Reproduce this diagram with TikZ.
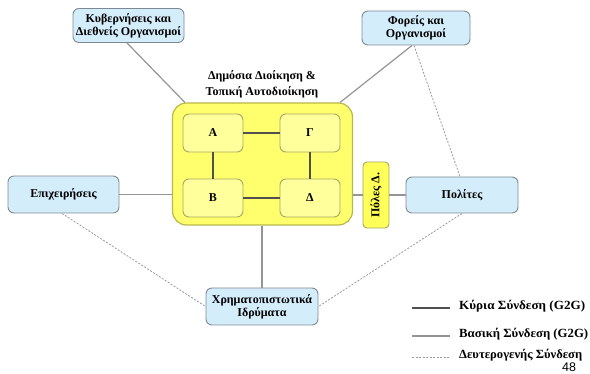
\documentclass[tikz,border=0pt]{standalone}
\usepackage{graphicx}
\usepackage{fontspec}
\setmainfont{Liberation Serif}
\newfontfamily\numfont{Liberation Sans}
\usetikzlibrary{calc}
\definecolor{boxblue}{HTML}{D4EDFB}
\definecolor{boxedge}{HTML}{7D8A94}
\definecolor{bigyellow}{HTML}{FFFF6E}
\definecolor{bigedge}{HTML}{B8B84A}
\definecolor{inneryellow}{HTML}{FFFF9C}
\definecolor{inneredge}{HTML}{A8A860}
\definecolor{polyellow}{HTML}{FFFF5A}
\definecolor{mainline}{HTML}{505050}
\definecolor{baseline}{HTML}{959595}
\definecolor{secline}{HTML}{9A9A9A}
\tikzset{
  actor/.style={draw=boxedge, line width=0.9pt, fill=boxblue, rounded corners=6pt,
    align=center, font=\bfseries\fontsize{12}{13}\selectfont, inner sep=0pt},
  sector/.style={draw=bigedge, line width=1.2pt, fill=bigyellow, rounded corners=14pt,
    minimum width=180pt, minimum height=122pt, inner sep=0pt},
  level/.style={draw=inneredge, line width=0.9pt, fill=inneryellow, rounded corners=6pt,
    minimum width=60pt, minimum height=38pt, inner sep=0pt,
    font=\bfseries\fontsize{12}{13}\selectfont},
  gate/.style={draw=inneredge, line width=0.9pt, fill=polyellow, rounded corners=4pt,
    minimum width=26pt, minimum height=66pt, inner sep=0pt},
  mainlink/.style={draw=mainline, line width=2.4pt},
  baselink/.style={draw=baseline, line width=1.2pt},
  seclink/.style={draw=secline, line width=0.8pt, dash pattern=on 2pt off 1.5pt},
  legendtext/.style={anchor=west, inner sep=0pt, font=\bfseries\fontsize{12.5}{13}\selectfont},
}
% legend labels are stretched to a fixed width, keeping their height
\newcommand{\legendlabel}[2]{\resizebox{#1}{\height}{#2}}
\begin{document}
\begin{tikzpicture}[x=1pt, y=-1pt]
\useasboundingbox (0,0) rectangle (590,374);

% outer actors
\node[actor, minimum width=111pt, minimum height=34pt] (kyv) at (128.5,25.5)
  {Κυβερνήσεις και\\Διεθνείς Οργανισμοί};
\node[actor, minimum width=108pt, minimum height=34pt] (forh) at (416,28)
  {Φορείς και\\Οργανισμοί};
\node[actor, minimum width=111pt, minimum height=37pt] (epix) at (63.5,194.5)
  {Επιχειρήσεις};
\node[actor, minimum width=112pt, minimum height=36pt] (polites) at (462,195)
  {Πολίτες};
\node[actor, minimum width=112pt, minimum height=37pt] (xrim) at (262,306.5)
  {Χρηματοπιστωτικά\\Ιδρύματα};

% secondary links
\draw[seclink] ([xshift=-2pt]forh.south) -- ([xshift=-2pt]polites.north);
\draw[seclink] ([xshift=-1.5pt]epix.south) -- (xrim.west);
\draw[seclink] (polites.south) -- (xrim.east);

% public sector block
\node[font=\bfseries\fontsize{12}{16}\selectfont, align=center] (title) at (262,84.5)
  {Δημόσια Διοίκηση \&\\Τοπική Αυτοδιοίκηση};
\node[sector] (big) at (262.5,164) {};
\node[gate] (poles) at (376,195) {};
\node[rotate=90, font=\bfseries\fontsize{12}{13}\selectfont] (polestxt) at (poles.center) {Πόλες Δ.};

% basic links
\draw[baselink] ([xshift=-1.5pt]kyv.south) -- ([xshift=13pt]big.north west);
\draw[baselink] ([xshift=-4pt]forh.south) -- ([xshift=-13pt]big.north east);
\draw[baselink] (epix.east) -- (big.west |- epix.east);
\draw[baselink] (big.east |- poles.west) -- (poles.west);
\draw[baselink] (poles.east) -- (polites.west);
\draw[baselink] (big.south -| xrim.north) -- (xrim.north);

% administration levels
\node[level] (la) at (213,133) {Α};
\node[level] (lg) at (310,133) {Γ};
\node[level] (lb) at (213,198) {Β};
\node[level] (ld) at (310,198) {Δ};
\draw[mainlink] (la.east) -- (lg.west);
\draw[mainlink] (lb.east) -- (ld.west);
\draw[mainlink] (la.south) -- (lb.north);
\draw[mainlink] (lg.south) -- (ld.north);

% legend
\coordinate (k1) at (412,308); \coordinate (k2) at (450,308);
\coordinate (b1) at (412,336); \coordinate (b2) at (450,336);
\coordinate (s1) at (412,357); \coordinate (s2) at (450,357);
\draw[mainlink] (k1) -- (k2);
\draw[baselink] (b1) -- (b2);
\draw[seclink] (s1) -- (s2);
\node[legendtext] (lk) at (459,306) {\legendlabel{126pt}{Κύρια Σύνδεση (G2G)}};
\node[legendtext] (lbt) at (459,334) {\legendlabel{129pt}{Βασική Σύνδεση (G2G)}};
\node[legendtext] (ls) at (459,355) {\legendlabel{123pt}{Δευτερογενής Σύνδεση}};

% page number
\node[font=\numfont\fontsize{12.5}{13}\selectfont, inner sep=0pt] (pg) at (569,367) {48};
\end{tikzpicture}
\end{document}
